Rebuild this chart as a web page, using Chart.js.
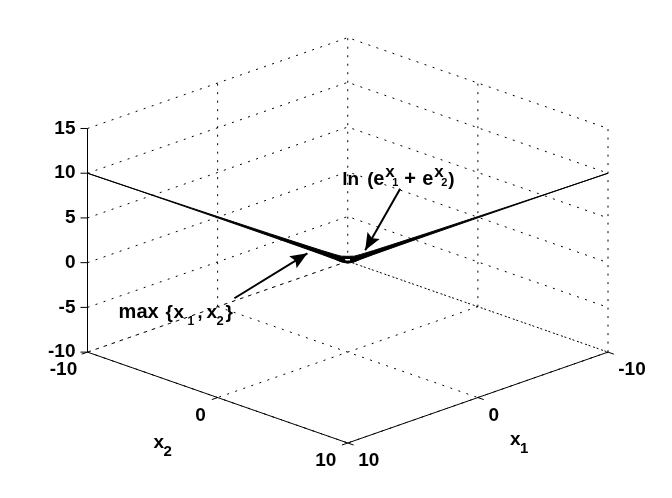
<!DOCTYPE html>
<html lang="en">
<head>
<meta charset="UTF-8">
<title>max and log-sum surfaces</title>
<style>
  html, body { margin: 0; background: #fff; }
  /* the original is a 1-bit bitmap, so push the edges towards black and white */
  canvas { display: block; filter: contrast(3.5); }
</style>
<script src="https://cdn.jsdelivr.net/npm/chart.js@4"></script>
</head>
<body>
<canvas id="chart" width="672" height="498"></canvas>
<script>
// tick values of the three axes
const x1Ticks = [-10, 0, 10];
const x2Ticks = [-10, 0, 10];
const zTicks = [-10, -5, 0, 5, 10, 15];

// the two surfaces are seen edge on, so they read as a V along the box walls
const pathX1 = [10, 6, 2, 0, -4, -6, -8, -9, -9.5, -10, -10, -10, -10, -10, -10, -10, -10, -10, -10];
const pathX2 = [-10, -10, -10, -10, -10, -10, -10, -10, -10, -10, -9.5, -9, -8, -6, -4, 0, 2, 6, 10];
const maxValues = [10, 5.99, 1.95, -0.07, -4.13, -6.17, -8.22, -9.27, -9.82, -10.22, -9.82, -9.27, -8.22, -6.17, -4.13, -0.07, 1.95, 5.99, 10];
const lnValues = [10, 6.01, 2.05, 0.07, -3.87, -5.83, -7.78, -8.73, -9.18, -9.45, -9.18, -8.73, -7.78, -5.83, -3.87, 0.07, 2.05, 6.01, 10];

// small gap left open at the bottom of the V
const slitX1 = [-9.8, -10];
const slitX2 = [-10, -9.8];
const slitZ = [-9.75, -9.75];

// annotation arrows, in plot coordinates [u, v]
const arrowLn = [[4.03, 8.27], [1.34, 1.38]];
const arrowMax = [[-8.71, -3.98], [-3.1, 1.04]];

// view of the 3d box: u goes across the page, v goes up
function project(x1, x2, z) {
  return { x: x2 - x1, y: z - 0.508 * (x1 + x2) };
}

function path3d(x1s, x2s, zs) {
  return x1s.map((v, i) => project(v, x2s[i], zs[i]));
}

function lineSet(data, color, width, dash, order) {
  return {
    data: data,
    showLine: true,
    borderColor: color,
    borderWidth: width,
    borderDash: dash,
    pointRadius: 0,
    tension: 0,
    fill: false,
    clip: false,
    order: order
  };
}

const dot = [2, 6.5];
const datasets = [];

// grid on the back walls and the floor
zTicks.forEach(z => {
  datasets.push(lineSet(path3d([10, -10, -10], [-10, -10, 10], [z, z, z]), "#000", 1, dot, 9));
});
x1Ticks.forEach(t => {
  datasets.push(lineSet(path3d([t, t], [-10, 10], [-10, -10]), "#000", 1, dot, 9));
  if (t < 10) datasets.push(lineSet(path3d([t, t], [-10, -10], [-10, 15]), "#000", 1, dot, 9));
});
x2Ticks.forEach(t => {
  datasets.push(lineSet(path3d([-10, 10], [t, t], [-10, -10]), "#000", 1, dot, 9));
  if (t > -10) datasets.push(lineSet(path3d([-10, -10], [t, t], [-10, 15]), "#000", 1, dot, 9));
});

// solid axes
datasets.push(lineSet(path3d([10, 10], [-10, -10], [-10, 15]), "#000", 1, [], 8));
datasets.push(lineSet(path3d([10, 10], [-10, 10], [-10, -10]), "#000", 1, [], 8));
datasets.push(lineSet(path3d([10, -10], [10, 10], [-10, -10]), "#000", 1, [], 8));

// tick marks
zTicks.forEach(z => {
  datasets.push(lineSet(path3d([10, 10.27], [-10, -10.27], [z, z]), "#000", 1, [], 8));
});
x2Ticks.forEach(t => {
  datasets.push(lineSet(path3d([10, 10.45], [t, t], [-10, -10]), "#000", 1, [], 8));
});
x1Ticks.forEach(t => {
  datasets.push(lineSet(path3d([t, t], [10, 10.45], [-10, -10]), "#000", 1, [], 8));
});

// the two curves, with the sliver between them filled
datasets.push(lineSet(path3d(pathX1, pathX2, maxValues), "#000", 1, [], 3));
const lnSet = lineSet(path3d(pathX1, pathX2, lnValues), "#000", 1, [], 2);
lnSet.fill = "-1";
lnSet.backgroundColor = "#000";
datasets.push(lnSet);
datasets.push(lineSet(path3d(slitX1, slitX2, slitZ), "#fff", 1.2, [], 1));

// arrow shafts
datasets.push(lineSet(arrowLn.map(p => ({ x: p[0], y: p[1] })), "#000", 2, [], 0));
datasets.push(lineSet(arrowMax.map(p => ({ x: p[0], y: p[1] })), "#000", 2, [], 0));

const font = '"Liberation Sans", Arial, sans-serif';

// nudges of the floor tick labels from their tick, in the order of the tick arrays
const x2LabelShift = [-24, -17, -22];
const x1LabelShift = [24, 16, 21];

// pieces of rich text: [string, dx, dy, size]
const labelLn = [["ln", 0, 0, 19], ["(", 25, 0, 19], ["e", 31, 0, 20], ["x", 43, -8, 17], ["1", 50, 1, 11], ["+", 62, 0, 20], ["e", 80, 0, 20], ["x", 92, -8, 17], ["2", 99, 1, 11], [")", 106, 0, 19]];
const labelMax = [["max", 0, 0, 20], ["{", 47, 0, 19], ["x", 55, 0, 19], ["1", 69, 7, 12], [",", 79, 0, 18], ["x", 88, 0, 19], ["2", 98, 7, 13], ["}", 107, 0, 19]];
const labelX2 = [["x", 0, 0, 19], ["2", 10, 8, 15]];
const labelX1 = [["x", 0, 0, 19], ["1", 10, 8, 15]];

const textPlugin = {
  id: "boxText",
  afterDatasetsDraw(chart) {
    const ctx = chart.ctx;
    const sx = chart.scales.x, sy = chart.scales.y;
    const px = p => ({ x: sx.getPixelForValue(p.x), y: sy.getPixelForValue(p.y) });

    ctx.save();
    ctx.fillStyle = "#000";

    // z tick labels
    ctx.textAlign = "right";
    ctx.textBaseline = "middle";
    ctx.font = "bold 19px " + font;
    zTicks.forEach(z => {
      const p = px(project(10, -10, z));
      ctx.fillText(String(z), p.x - 12, p.y);
    });

    // floor tick labels
    ctx.textAlign = "center";
    x2Ticks.forEach((t, i) => {
      const p = px(project(10, t, -10));
      ctx.fillText(String(t), p.x + x2LabelShift[i], p.y + 18);
    });
    x1Ticks.forEach((t, i) => {
      const p = px(project(t, 10, -10));
      ctx.fillText(String(t), p.x + x1LabelShift[i], p.y + 18);
    });

    // rich labels
    ctx.textAlign = "left";
    ctx.textBaseline = "alphabetic";
    const rich = (pieces, anchor) => {
      const a = px(anchor);
      pieces.forEach(s => {
        ctx.font = "bold " + s[3] + "px " + font;
        ctx.fillText(s[0], a.x + s[1], a.y + s[2]);
      });
    };
    rich(labelLn, { x: -0.42, y: 8.63 });
    rich(labelMax, { x: -17.61, y: -6.21 });
    rich(labelX2, { x: -14.93, y: -20.72 });
    rich(labelX1, { x: 12.46, y: -20.38 });

    // arrow heads
    [arrowLn, arrowMax].forEach(a => {
      const t = px({ x: a[0][0], y: a[0][1] });
      const h = px({ x: a[1][0], y: a[1][1] });
      const ang = Math.atan2(h.y - t.y, h.x - t.x);
      const len = 17, half = 7;
      const bx = h.x - len * Math.cos(ang), by = h.y - len * Math.sin(ang);
      ctx.beginPath();
      ctx.moveTo(h.x, h.y);
      ctx.lineTo(bx - half * Math.sin(ang), by + half * Math.cos(ang));
      ctx.lineTo(bx + 3 * Math.cos(ang), by + 3 * Math.sin(ang));
      ctx.lineTo(bx + half * Math.sin(ang), by - half * Math.cos(ang));
      ctx.closePath();
      ctx.fill();
    });
    ctx.restore();
  }
};

new Chart("chart", {
  type: "scatter",
  data: { datasets: datasets },
  options: {
    responsive: false,
    animation: false,
    events: [],
    layout: { padding: { left: 87.5, right: 64, top: 37.6, bottom: 55 } },
    plugins: { legend: { display: false }, tooltip: { enabled: false } },
    scales: {
      x: { type: "linear", min: -20, max: 20, display: false },
      y: { type: "linear", min: -20.16, max: 25.16, display: false }
    }
  },
  plugins: [textPlugin]
});
</script>
</body>
</html>
